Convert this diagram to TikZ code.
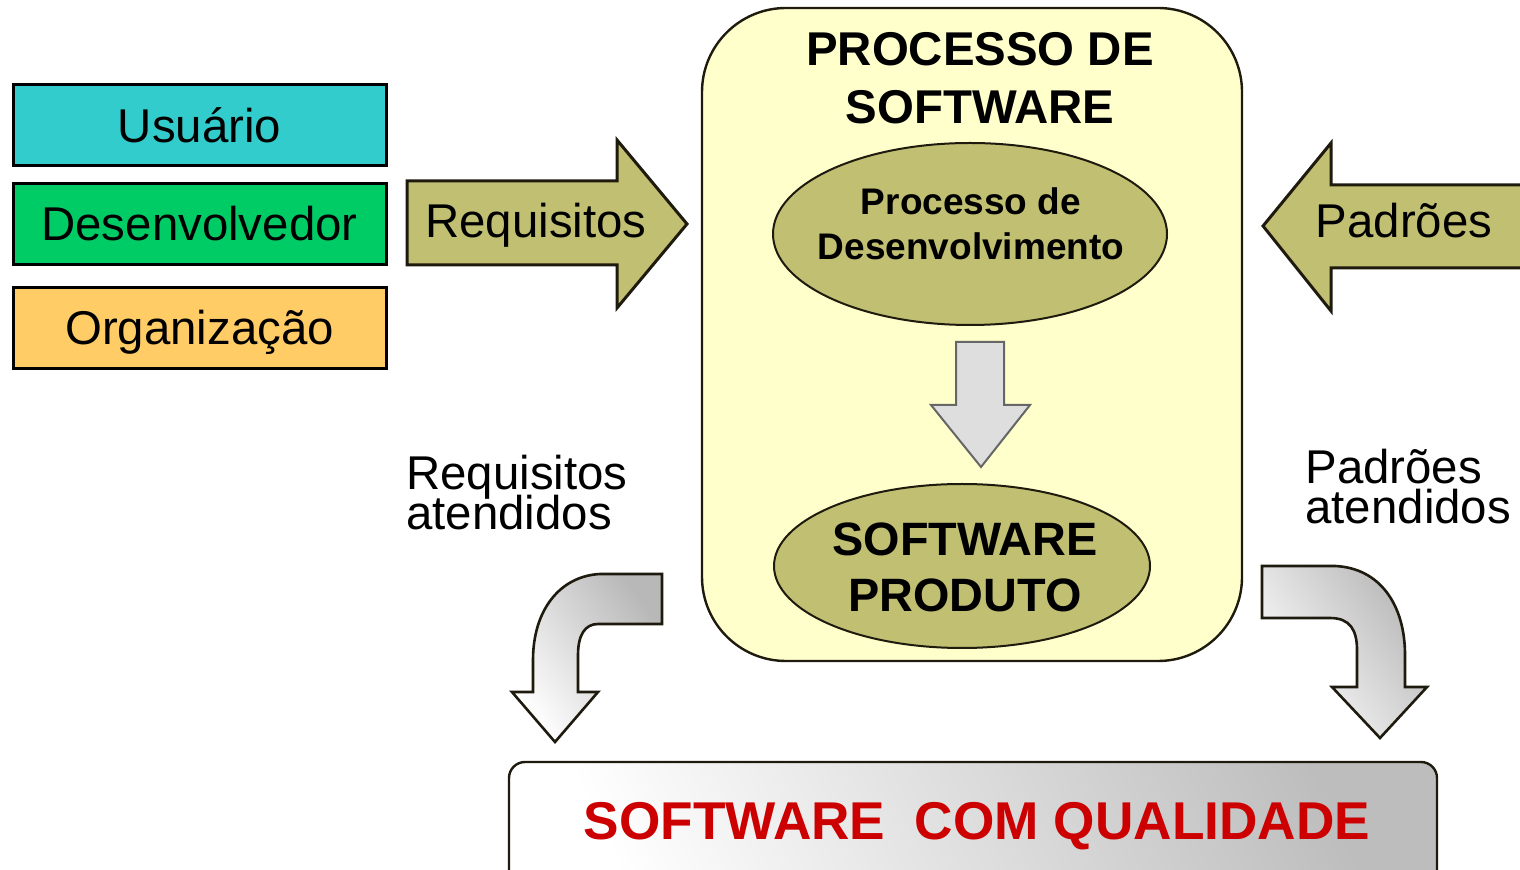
\documentclass[tikz,border=0pt]{standalone}
\usepackage{fontspec}
\setmainfont{Liberation Sans}
\usetikzlibrary{shapes.geometric}
\definecolor{cyanfill}{HTML}{33CCCC}
\definecolor{greenfill}{HTML}{00CC66}
\definecolor{orangefill}{HTML}{FFCC66}
\definecolor{yellowfill}{HTML}{FFFFCC}
\definecolor{olivefill}{HTML}{C0BF72}
\definecolor{edge}{HTML}{1F1A0E}
\definecolor{redtext}{HTML}{CC0000}
\begin{document}
\begin{tikzpicture}[x=0.5pt,y=-0.5pt,
  legend/.style={draw=black, line width=1.5pt, minimum width=186.5pt, minimum height=40.5pt, inner sep=0pt, font=\fontsize{23.7}{28}\selectfont},
  blockarrow/.style={draw=edge, line width=1.5pt, fill=olivefill, line join=miter},
  bigtext/.style={inner sep=0pt, font=\fontsize{23.7}{28}\selectfont},
  sidetext/.style={inner sep=0pt, anchor=west, align=left, font={\fontsize{23.7}{20}\selectfont\lineskiplimit=-30pt}},
  bendarrow/.style={draw=edge, line width=1.3pt, left color=white, right color=black!28, shading angle=125},
  ellipsebox/.style={ellipse, draw=edge, line width=1pt, fill=olivefill, inner sep=0pt}
]
\useasboundingbox (0,0) rectangle (1520,870);
\clip (0,0) rectangle (1520,870);

% legend boxes
\node[legend, fill=cyanfill] (usuario) at (199.5,125.5) {Usuário};
\node[legend, fill=greenfill] (dev) at (199.5,224) {Desenvolvedor};
\node[legend, fill=orangefill] (org) at (199.5,328) {};
\node[bigtext, anchor=base] (orgtext) at (199.5,345) {Organização};

% main process box
\node[draw=edge, line width=1.2pt, fill=yellowfill, rounded corners=42pt, minimum width=270pt, minimum height=326.5pt, inner sep=0pt] (proc) at (972,334.5) {};
\node[inner sep=0pt, align=center, font=\bfseries\fontsize{23.7}{29}\selectfont] (title) at (980,78) {PROCESSO DE\\SOFTWARE};

% Requisitos arrow
\draw[blockarrow] (407,181) -- (617,181) -- (617,140) -- (687,224) -- (617,308) -- (617,265) -- (407,265) -- cycle;
\node[bigtext] (req) at (536,225) {Requisitos};

% Padroes arrow
\draw[blockarrow] (1540,185) -- (1331,185) -- (1331,143) -- (1263,226) -- (1331,311) -- (1331,268) -- (1540,268) -- cycle;
\node[bigtext] (pad) at (1404,221) {Padrões};

% ellipse 1
\node[ellipsebox, minimum width=197pt, minimum height=91pt] (pdev) at (970,234) {};
\node[inner sep=0pt, align=center, font=\bfseries\fontsize{18.5}{22.5}\selectfont] (pdevtext) at (971,224) {Processo de\\Desenvolvimento};

% down arrow
\draw[draw=black!60, line width=1pt, fill=black!13, line join=miter] (956,342) -- (1004,342) -- (1004,405) -- (1030,405) -- (981,467) -- (931,405) -- (956,405) -- cycle;

% ellipse 2
\node[ellipsebox, minimum width=188pt, minimum height=82pt] (prod) at (962,566) {};
\node[inner sep=0pt, align=center, font=\bfseries\fontsize{23.4}{28}\selectfont] (prodtext) at (965,567) {SOFTWARE\\PRODUTO};

% side labels
\node[sidetext] (reqat) at (406,493) {Requisitos\\atendidos};
\node[sidetext] (padat) at (1305,487) {Padrões\\atendidos};

% bent arrows
\draw[bendarrow] (662,574) -- (600,574) .. controls (560,576) and (533,610) .. (533,660) -- (533,692) -- (512,692) -- (555,742) -- (598,692) -- (578,692) -- (578,655) .. controls (578,635) and (585,624) .. (598,624) -- (662,624) -- cycle;
\draw[bendarrow] (1262,566) -- (1335,566) .. controls (1380,568) and (1405,605) .. (1405,655) -- (1405,687) -- (1427,687) -- (1380,738) -- (1332,687) -- (1357,687) -- (1357,650) .. controls (1357,630) and (1350,618) .. (1330,618) -- (1262,618) -- cycle;

% bottom box
\draw[draw=edge, line width=1.2pt, rounded corners=8pt, left color=white, right color=black!26, shading angle=115] (509,762) rectangle (1437,900);
\node[inner sep=0pt, text=redtext, font=\bfseries\fontsize{26.6}{30}\selectfont] (quality) at (977,826) {SOFTWARE\ \ COM QUALIDADE};
\end{tikzpicture}
\end{document}
